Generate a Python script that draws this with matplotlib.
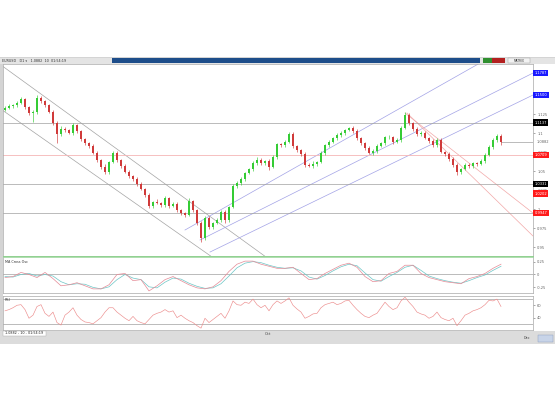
import matplotlib
matplotlib.use("Agg")
import matplotlib.pyplot as plt
from matplotlib.patches import Rectangle
import numpy as np

# candle closes, one bar per step (oldest first)
CLOSE = [
    1.1329, 1.1355, 1.1368, 1.1395, 1.1447, 1.1342, 1.1263, 1.1276, 1.1461, 1.1421,
    1.1368, 1.1276, 1.1132, 1.0987, 1.1053, 1.1039, 1.1000, 1.1105, 1.1026, 1.0921,
    1.0868, 1.0829, 1.0737, 1.0645, 1.0553, 1.0487, 1.0618, 1.0737, 1.0645, 1.0566,
    1.0487, 1.0434, 1.0395, 1.0329, 1.0263, 1.0184, 1.0039, 1.0092, 1.0079, 1.0053,
    1.0145, 1.0039, 1.0066, 0.9987, 0.9947, 0.9921, 1.0105, 0.9987, 0.9816, 0.9618,
    0.9882, 0.9763, 0.9816, 0.9855, 0.9961, 0.9855, 1.0026, 1.0303, 1.0342, 1.0395,
    1.0474, 1.0526, 1.0605, 1.0645, 1.0605, 1.0632, 1.0553, 1.0684, 1.0855, 1.0842,
    1.0882, 1.0987, 1.0829, 1.0776, 1.0724, 1.0579, 1.0566, 1.0592, 1.0618, 1.0737,
    1.0842, 1.0882, 1.0934, 1.0974, 1.1000, 1.1039, 1.1066, 1.1026, 1.0934, 1.0868,
    1.0803, 1.0737, 1.0763, 1.0829, 1.0868, 1.0947, 1.0947, 1.0882, 1.0908, 1.1066,
    1.1237, 1.1132, 1.1053, 1.0987, 1.1000, 1.0934, 1.0895, 1.0842, 1.0908, 1.0750,
    1.0724, 1.0658, 1.0579, 1.0487, 1.0526, 1.0579, 1.0566, 1.0605, 1.0592, 1.0632,
    1.0711, 1.0816, 1.0908, 1.0961, 1.0882,
]
FIRST_OPEN = 1.1310

# wick lengths above / below the body, in 0.001
WICK_HI = [
    2, 3, 1, 2, 3, 1, 2, 3, 4, 2,
    1, 2, 3, 2, 4, 2, 1, 3, 2, 2,
    1, 2, 3, 2, 1, 4, 2, 3, 2, 1,
    2, 3, 1, 2, 2, 1, 3, 2, 4, 2,
    2, 1, 3, 2, 1, 2, 4, 2, 1, 2,
    3, 2, 1, 3, 2, 2, 1, 2, 3, 2,
    1, 2, 3, 4, 2, 1, 2, 3, 2, 1,
    3, 2, 2, 1, 2, 3, 2, 4, 1, 2,
    2, 3, 1, 2, 3, 2, 1, 2, 3, 2,
    1, 2, 3, 2, 2, 1, 3, 2, 2, 3,
    4, 2, 1, 3, 2, 2, 1, 2, 3, 2,
    1, 2, 2, 3, 1, 2, 3, 2, 1, 2,
    3, 2, 2, 3, 2,
]
WICK_LO = [
    2, 1, 3, 2, 1, 2, 3, 12, 2, 3,
    2, 1, 2, 12, 2, 3, 1, 2, 3, 2,
    2, 3, 1, 2, 3, 2, 2, 1, 3, 2,
    1, 2, 3, 2, 1, 3, 2, 2, 1, 2,
    3, 2, 1, 2, 3, 2, 1, 3, 2, 5,
    2, 3, 2, 1, 2, 4, 2, 1, 2, 3,
    2, 1, 2, 3, 2, 2, 4, 1, 2, 3,
    2, 1, 3, 2, 2, 3, 1, 2, 2, 1,
    3, 2, 1, 2, 2, 3, 1, 2, 3, 2,
    2, 1, 3, 2, 1, 2, 3, 2, 1, 2,
    1, 2, 3, 2, 2, 1, 3, 2, 2, 1,
    2, 3, 2, 4, 2, 1, 2, 3, 2, 1,
    2, 1, 2, 2, 4,
]

# MA cross oscillator, every second bar
OSC = [
    -0.06, -0.04, 0.04, 0.00, -0.06, 0.04, -0.08, -0.22, -0.20, -0.16,
    -0.22, -0.28, -0.28, -0.20, 0.00, 0.02, -0.12, -0.10, -0.32, -0.22,
    -0.10, -0.04, -0.12, -0.20, -0.26, -0.28, -0.24, -0.12, 0.06, 0.20,
    0.26, 0.26, 0.20, 0.16, 0.12, 0.12, 0.14, 0.02, -0.10, -0.08,
    0.02, 0.10, 0.18, 0.22, 0.14, -0.04, -0.14, -0.12, 0.02, 0.06,
    0.18, 0.18, 0.02, -0.06, -0.10, -0.14, -0.16, -0.18, -0.08, -0.04,
    0.02, 0.12, 0.20,
]
OSC_SIGNAL = [
    -0.04, -0.05, 0.00, 0.02, -0.03, 0.00, -0.03, -0.14, -0.20, -0.18,
    -0.19, -0.25, -0.28, -0.24, -0.10, 0.00, -0.07, -0.10, -0.24, -0.26,
    -0.15, -0.07, -0.09, -0.17, -0.23, -0.27, -0.26, -0.18, -0.03, 0.13,
    0.22, 0.25, 0.23, 0.18, 0.14, 0.12, 0.13, 0.07, -0.05, -0.09,
    -0.02, 0.07, 0.15, 0.20, 0.17, 0.03, -0.10, -0.13, -0.04, 0.04,
    0.14, 0.18, 0.08, -0.03, -0.08, -0.12, -0.15, -0.17, -0.12, -0.06,
    -0.01, 0.08, 0.16,
]

RSI = [
    51, 53, 56, 60, 61, 53, 39, 44, 58, 61,
    47, 42, 49, 32, 28, 44, 49, 56, 44, 37,
    33, 32, 30, 35, 40, 49, 56, 56, 49, 44,
    39, 35, 42, 35, 32, 30, 37, 44, 47, 49,
    53, 49, 51, 40, 44, 39, 35, 32, 27, 23,
    39, 32, 37, 42, 47, 39, 51, 67, 61, 60,
    65, 63, 70, 61, 56, 60, 51, 61, 67, 63,
    67, 72, 60, 54, 49, 39, 42, 46, 47, 56,
    61, 63, 65, 61, 63, 67, 68, 60, 53, 47,
    42, 40, 44, 47, 56, 65, 58, 53, 56, 67,
    73, 65, 58, 49, 46, 44, 39, 42, 49, 40,
    37, 35, 39, 27, 35, 44, 47, 51, 53, 56,
    61, 68, 67, 70, 58,
]

# drawn trend lines: (bar0, price0, bar1, price1)
DOWN_CHANNEL = [(-0.5, 1.1875, 66.0, 0.9340), (-0.5, 1.1295, 52.0, 0.9360)]
UP_CHANNEL = [(45.0, 0.9724, 132.0, 1.2316), (48.75, 0.9592, 132.0, 1.1789),
              (51.25, 0.9434, 132.0, 1.1500)]
FAN_LINES = [(100.0, 1.1263, 132.0, 0.9947), (100.5, 1.1263, 132.0, 0.9645)]
GRAY_LEVELS = [1.1137, 1.0331, 0.9947]
RED_LEVEL = 1.0709

PRICE_TICKS = [0.95, 0.975, 1.0, 1.025, 1.05, 1.075, 1.1, 1.125]
PRICE_TICK_LABELS = ["0.95", "0.975", "1", "1.025", "1.05", "1.075", "1.1", "1.125"]
# right-edge price boxes: (value, colour)
PRICE_BOXES = [(1.1787, "#1a1aff"), (1.1500, "#1a1aff"), (1.1137, "#000000"),
               (1.0709, "#ff1a1a"), (1.0331, "#000000"), (1.0202, "#ff1a1a"),
               (0.9947, "#ff1a1a")]

W, H = 555, 400


def rect(x0, y0, x1, y1):
    return [x0 / W, 1 - y1 / H, (x1 - x0) / W, (y1 - y0) / H]


def box(x0, y0, x1, y1, fc, ec="none", lw=0.5, z=-5):
    fig.add_artist(Rectangle((x0 / W, 1 - y1 / H), (x1 - x0) / W, (y1 - y0) / H,
                             transform=fig.transFigure, fc=fc, ec=ec, lw=lw, zorder=z))


def style_panel(a):
    a.set_xlim(-0.5, 132)
    a.set_xticks([])
    a.yaxis.tick_right()
    a.tick_params(axis="y", labelsize=2.6, length=1.5, width=0.4, pad=1.5,
                  colors="#666666")
    for s in a.spines.values():
        s.set_color("#a8a8a8")
        s.set_linewidth(0.5)
    a.set_zorder(5)


fig = plt.figure(figsize=(W / 100, H / 100), dpi=100, facecolor="white")

# window chrome
box(0, 57, 555, 344, "#d4d4d4", z=-10)
box(0, 58, 555, 64, "#e4e4e4", z=-9)
box(112, 58, 480, 63, "#1d4d8a", z=-8)
box(483, 58, 492, 63, "#2f8f2f", z=-8)
box(492, 58, 505, 63, "#b32020", z=-8)
box(508, 58, 530, 63, "#f2f2f2", ec="#999999", lw=0.3, z=-8)
box(3, 64, 555, 331, "white", z=-9)
fig.text(2 / W, 1 - 60.5 / H, "EURUSD   D1 ▾   1.0882  10  01:54:19", fontsize=2.4,
         color="#333333", va="center")
fig.text(519 / W, 1 - 60.5 / H, "MATRIX", fontsize=2.2, color="#333333",
         ha="center", va="center")

# status bar
box(0, 331, 555, 344, "#dcdcdc", z=-9)
box(3, 331, 46, 336, "white", ec="#aaaaaa", lw=0.3, z=-8)
fig.text(5 / W, 1 - 333.5 / H, "1.0882 - 10 - 01:54:19", fontsize=2.4, color="#222222",
         va="center")
fig.text(268 / W, 1 - 334 / H, "Oct", fontsize=2.6, color="#444444",
         ha="center", va="center")
fig.text(527 / W, 1 - 338 / H, "Dec", fontsize=2.4, color="#444444",
         ha="center", va="center")
box(538, 335, 553, 342, "#c8d4e8", ec="#8899bb", lw=0.3, z=-8)

n = len(CLOSE)
idx = np.arange(n)
close = np.array(CLOSE)
opens = np.array([FIRST_OPEN] + CLOSE[:-1])
highs = np.maximum(opens, close) + np.array(WICK_HI) * 0.001
lows = np.minimum(opens, close) - np.array(WICK_LO) * 0.001
up = close >= opens

# ---- main price panel
ax = fig.add_axes(rect(3, 64, 533, 256))
style_panel(ax)
ax.set_ylim(0.9382, 1.1908)

for x0, p0, x1, p1 in DOWN_CHANNEL:
    ax.plot([x0, x1], [p0, p1], color="#a4a4a4", lw=0.5, zorder=1)
for x0, p0, x1, p1 in UP_CHANNEL:
    ax.plot([x0, x1], [p0, p1], color="#a2a2e6", lw=0.5, zorder=1)
for x0, p0, x1, p1 in FAN_LINES:
    ax.plot([x0, x1], [p0, p1], color="#f2a8a8", lw=0.5, zorder=1)
for lvl in GRAY_LEVELS:
    ax.axhline(lvl, color="#a0a0a0", lw=0.5, zorder=1)
ax.axhline(RED_LEVEL, color="#f5b5b5", lw=0.6, zorder=1)
ax.plot([n - 1, 132], [CLOSE[-1], CLOSE[-1]], color="#a0a0a0", lw=0.5, zorder=1)

colors = np.where(up, "#35cc35", "#d03a3a")
ax.vlines(idx, lows, highs, colors=colors, lw=0.45, zorder=2)
ax.bar(idx, np.abs(close - opens) + 0.0004, bottom=np.minimum(opens, close) - 0.0002,
       width=0.35, color=colors, lw=0, zorder=3)

ax.set_yticks(PRICE_TICKS)
ax.set_yticklabels(PRICE_TICK_LABELS)
ax.spines["bottom"].set_color("#8fd08f")
ax.spines["bottom"].set_linewidth(0.7)

for val, col in PRICE_BOXES:
    ax.text(1.003, val, f"{val:.4f}", transform=ax.get_yaxis_transform(), fontsize=2.6,
            color="white", va="center", ha="left", zorder=5, clip_on=False,
            bbox=dict(boxstyle="square,pad=0.35", fc=col, ec="none"))
ax.text(1.006, CLOSE[-1], f"{CLOSE[-1]:.4f}", transform=ax.get_yaxis_transform(),
        fontsize=2.6, color="#666666", va="center", ha="left", clip_on=False)

# ---- MA cross oscillator
ax2 = fig.add_axes(rect(3, 257, 533, 293))
style_panel(ax2)
ax2.set_ylim(-0.36, 0.34)
osc_x = idx[::2]
ax2.axhline(0, color="#a0a0a0", lw=0.5)
ax2.plot(osc_x, OSC_SIGNAL, color="#6cc6c6", lw=0.5)
ax2.plot(osc_x, OSC, color="#e58a96", lw=0.5)
ax2.set_yticks([-0.25, 0, 0.25])
ax2.set_yticklabels(["-0.25", "0", "0.25"])
ax2.spines["top"].set_color("#8fd08f")
ax2.text(0.004, 0.93, "MA Cross Osc", transform=ax2.transAxes, fontsize=2.4,
         color="#333333", va="top")

# ---- RSI
ax3 = fig.add_axes(rect(3, 296, 533, 330))
style_panel(ax3)
ax3.set_ylim(20, 75)
ax3.axhline(70, color="#a0a0a0", lw=0.5)
ax3.axhline(30, color="#a0a0a0", lw=0.5)
ax3.plot(idx, RSI, color="#ec8c8c", lw=0.45)
ax3.set_yticks([40, 60])
ax3.set_yticklabels(["40", "60"])
ax3.text(0.004, 0.95, "RSI", transform=ax3.transAxes, fontsize=2.4,
         color="#333333", va="top")

fig.savefig("out.png", dpi=100, facecolor="white")
